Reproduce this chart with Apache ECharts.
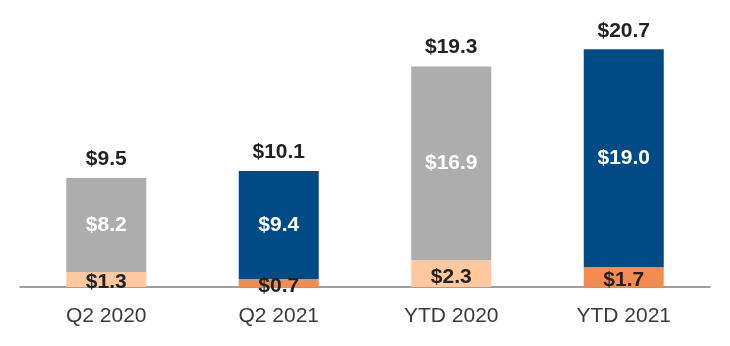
<!DOCTYPE html>
<html>
<head>
<meta charset="utf-8">
<script src="https://cdn.jsdelivr.net/npm/echarts@6/dist/echarts.min.js"></script>
<style>
  html, body { margin: 0; padding: 0; background: #fff; }
  #chart { width: 730px; height: 346px; }
</style>
</head>
<body>
<div id="chart"></div>
<script>
// Periods shown along the x axis
const categories = ['Q2 2020', 'Q2 2021', 'YTD 2020', 'YTD 2021'];
// Lower segment of each bar
const lowerValues = [1.3, 0.7, 2.3, 1.7];
// Upper segment of each bar
const upperValues = [8.2, 9.4, 16.9, 19.0];
// Reported totals shown above each bar
const totalValues = [9.5, 10.1, 19.3, 20.7];

const lowerColors = ['#FFC89E', '#F58C4F', '#FFC89E', '#F58C4F'];
const upperColors = ['#ADADAD', '#004A85', '#ADADAD', '#004A85'];

const fontFamily = '"Liberation Sans", Arial, sans-serif';
const money = v => '$' + v.toFixed(1);

const chart = echarts.init(document.getElementById('chart'), null, { renderer: 'canvas' });

chart.setOption({
  animation: false,
  backgroundColor: '#ffffff',
  grid: { left: 20, right: 20, top: 0, bottom: 59, containLabel: false },
  xAxis: {
    type: 'category',
    data: categories,
    axisLine: { show: true, lineStyle: { color: '#7f7f7f', width: 1.5 } },
    axisTick: { show: false },
    axisLabel: { color: '#3a3a3a', fontSize: 21, fontFamily: fontFamily, margin: 19 }
  },
  yAxis: {
    type: 'value',
    min: 0,
    max: 25,
    show: false,
    splitLine: { show: false }
  },
  series: [
    {
      name: 'Total',
      type: 'bar',
      barWidth: 80,
      barGap: '-100%',
      z: 1,
      data: totalValues,
      itemStyle: { color: 'rgba(0,0,0,0)' },
      label: {
        show: true,
        position: 'top',
        distance: 8,
        formatter: p => money(totalValues[p.dataIndex]),
        color: '#222222',
        fontSize: 21,
        fontWeight: 'bold',
        fontFamily: fontFamily
      }
    },
    {
      name: 'Lower',
      type: 'bar',
      stack: 'amount',
      barWidth: 80,
      z: 3,
      data: lowerValues.map((v, i) => ({ value: v, itemStyle: { color: lowerColors[i] } })),
      label: {
        show: true,
        position: 'inside',
        offset: [0, 3],
        formatter: p => money(p.value),
        color: '#222222',
        fontSize: 21,
        fontWeight: 'bold',
        fontFamily: fontFamily
      }
    },
    {
      name: 'Upper',
      type: 'bar',
      stack: 'amount',
      barWidth: 80,
      z: 2,
      data: upperValues.map((v, i) => ({ value: v, itemStyle: { color: upperColors[i] } })),
      label: {
        show: true,
        position: 'inside',
        formatter: p => money(p.value),
        color: '#ffffff',
        fontSize: 21,
        fontWeight: 'bold',
        fontFamily: fontFamily
      }
    }
  ]
});
</script>
</body>
</html>
